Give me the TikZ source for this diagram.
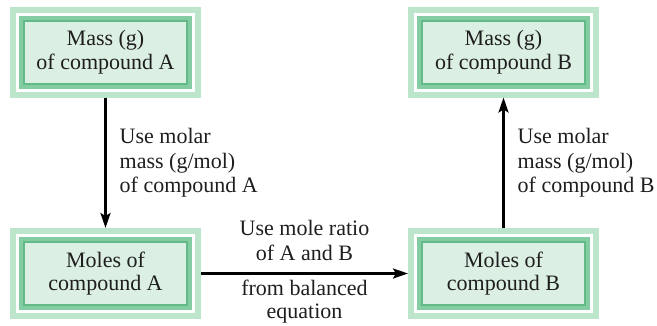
\documentclass[tikz,border=0pt]{standalone}
\usepackage{fontspec}
\setmainfont{Liberation Serif}
\newfontfamily\timesf{Liberation Serif}
\usetikzlibrary{arrows.meta}
\definecolor{boxfill}{RGB}{220,239,227}
\definecolor{midgreen}{RGB}{132,204,162}
\definecolor{lightgreen}{RGB}{188,229,204}
\definecolor{darkgreen}{RGB}{98,186,136}
\definecolor{txt}{RGB}{30,30,30}
\begin{document}
\begin{tikzpicture}[x=1pt,y=-1pt,
  chembox/.style={rectangle, align=center, text=txt,
    font=\timesf\fontsize{22}{23.5}\selectfont,
    minimum width=163pt, minimum height=63pt, inner sep=0pt, outer sep=14pt,
    preaction={draw=lightgreen, line width=28pt},
    preaction={draw=white, line width=16pt},
    preaction={draw=midgreen, line width=10pt},
    fill=boxfill, draw=darkgreen, line width=2pt},
  conv/.style={line width=2.4pt, draw=black, -{Stealth[length=15pt,width=10pt,inset=3pt]}},
  lbl/.style={inner sep=0pt, text=txt, font=\timesf\fontsize{22}{24.5}\selectfont}
]
\useasboundingbox (0,0) rectangle (657,325);
\node[chembox] (massA) at (105.5,52) {Mass (g)\\of compound A};
\node[chembox] (molA) at (105.5,273.5) {Moles of\\compound A};
\node[chembox] (massB) at (503.5,52) {Mass (g)\\of compound B};
\node[chembox] (molB) at (503.5,273.5) {Moles of\\compound B};

\draw[conv] (massA) -- (molA)
  node[lbl, midway, anchor=west, xshift=13pt, align=left] (lA) {Use molar\\mass (g/mol)\\of compound A};
\draw[conv] (molB) -- (massB)
  node[lbl, midway, anchor=west, xshift=13pt, align=left] (lB) {Use molar\\mass (g/mol)\\of compound B};
\draw[conv] (molA) -- (molB)
  node[lbl, midway, anchor=south, yshift=12pt, align=center] (lR1) {Use mole ratio\\of A and B}
  node[lbl, midway, anchor=north, yshift=-5pt, align=center, font=\timesf\fontsize{22}{23}\selectfont] (lR2) {from balanced\\equation};
\end{tikzpicture}
\end{document}
